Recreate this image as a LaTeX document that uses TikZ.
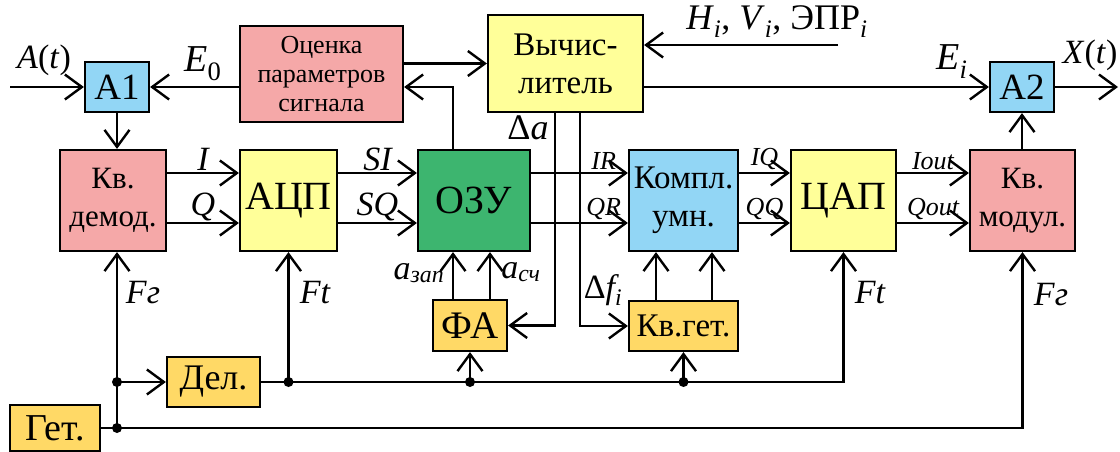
\documentclass[tikz,border=0pt]{standalone}
\usepackage{fontspec}
\setmainfont{Liberation Serif}
\usetikzlibrary{arrows.meta}
\definecolor{boxblue}{HTML}{92D6F5}
\definecolor{boxpink}{HTML}{F5A8A8}
\definecolor{boxyel}{HTML}{FFFF99}
\definecolor{boxgrn}{HTML}{3DB56F}
\definecolor{boxorg}{HTML}{FFD966}
\newcommand{\sz}[2]{\fontsize{#1}{#2}\selectfont}
\tikzset{
  unit/.style={draw=black, line width=2.2pt, inner sep=0pt, align=center},
  blu/.style={unit, fill=boxblue},
  pnk/.style={unit, fill=boxpink},
  yel/.style={unit, fill=boxyel},
  grn/.style={unit, fill=boxgrn},
  org/.style={unit, fill=boxorg},
  arr/.style={-{Straight Barb[length=17pt,width=25pt]}, line width=2.4pt},
  lbl/.style={font=\sz{34}{38}\itshape, inner sep=1pt},
  sml/.style={font=\sz{26}{30}\itshape, inner sep=2pt},
  dot/.style={circle, fill=black, inner sep=0pt, minimum size=10pt},
}
\begin{document}
\begin{tikzpicture}[x=1pt,y=-1pt]
\useasboundingbox (0,0) rectangle (1120,452);
% top row
\node[blu, minimum width=64pt, minimum height=50pt, font=\sz{37}{40}] (A1) at (117,87) {A1};
\node[pnk, minimum width=163pt, minimum height=96pt, font=\sz{26}{29}] (est) at (321.5,74) {Оценка\\параметров\\сигнала};
\node[yel, minimum width=155pt, minimum height=97pt, font=\sz{33}{38}] (calc) at (565.5,63.5) {Вычис-\\литель};
\node[blu, minimum width=64pt, minimum height=50pt, font=\sz{37}{40}] (A2) at (1022,87) {A2};
% middle row
\node[pnk, minimum width=106pt, minimum height=101pt, font=\sz{31}{38}] (demod) at (113,200.5) {Кв.\\демод.};
\node[yel, minimum width=97pt, minimum height=101pt, font=\sz{40}{44}] (adc) at (288.5,200.5) {АЦП};
\node[grn, minimum width=112pt, minimum height=101pt, font=\sz{40}{44}] (ram) at (474,200.5) {ОЗУ};
\node[blu, minimum width=109pt, minimum height=101pt, font=\sz{33}{38}] (cmul) at (683.5,200.5) {Компл.\\умн.};
\node[yel, minimum width=105pt, minimum height=101pt, font=\sz{40}{44}] (dac) at (843.5,200.5) {ЦАП};
\node[pnk, minimum width=105pt, minimum height=101pt, font=\sz{31}{38}] (mod) at (1022.5,200.5) {Кв.\\модул.};
% bottom row
\node[org, minimum width=74pt, minimum height=51pt, font=\sz{39}{42}] (fa) at (470,325.5) {ФА};
\node[org, minimum width=109pt, minimum height=50pt, font=\sz{33}{36}] (qlo) at (683.5,326) {Кв.гет.};
\node[org, minimum width=93pt, minimum height=50pt, font=\sz{36}{40}] (div) at (213.5,382) {Дел.};
\node[org, minimum width=90pt, minimum height=46pt, font=\sz{38}{42}] (lo) at (55,428) {Гет.};

% helper points
\coordinate (rowI) at (0,173);
\coordinate (rowQ) at (0,223);
\coordinate (xa) at (453,0);
\coordinate (xb) at (490,0);
\coordinate (xc) at (656,0);
\coordinate (xd) at (712,0);
\coordinate (xda) at (555,0);
\coordinate (xdf) at (580,0);
\coordinate (ain) at (10,87);
\coordinate (xout) at (1118,87);
\coordinate (hin) at (838,45);

% top signals
\draw[arr] (ain) -- (A1.west);
\node[lbl] (lA) at (44,60) {A\textup{(}t\textup{)}};
\draw[arr] (est.west |- A1.east) -- (A1.east);
\node[lbl, font=\sz{38}{40}\itshape] (lE0) at (203,64) {E\textsubscript{\textup{0}}};
\draw[arr] (est.east |- calc.west) -- (calc.west);
\draw[arr] (ram.north -| xa) |- (est.east |- A1.east);
\draw[arr] (hin) -- (hin -| calc.east);
\node[font=\sz{36}{40}, inner sep=1pt] (lH) at (777,22) {\textit{H}\textsubscript{\textit{i}}, \textit{V}\textsubscript{\textit{i}}, ЭПР\textsubscript{\textit{i}}};
\draw[arr] (calc.east |- A2.west) -- (A2.west);
\node[lbl, font=\sz{38}{40}\itshape] (lEi) at (952,62) {E\textsubscript{i}};
\draw[arr] (A2.east) -- (xout);
\node[lbl] (lX) at (1090,55) {X\textup{(}t\textup{)}};
\draw[arr] (A1.south) -- (A1.south |- demod.north);
\draw[arr] (mod.north -| A2.south) -- (A2.south);

% data path
\draw[arr] (demod.east |- rowI) -- (adc.west |- rowI) node[lbl, midway, above] (lI) {I};
\draw[arr] (demod.east |- rowQ) -- (adc.west |- rowQ) node[lbl, midway, above] (lQ) {Q};
\draw[arr] (adc.east |- rowI) -- (ram.west |- rowI) node[lbl, midway, above] (lSI) {SI};
\draw[arr] (adc.east |- rowQ) -- (ram.west |- rowQ) node[lbl, midway, above] (lSQ) {SQ};
\draw[arr] (ram.east |- rowI) -- (cmul.west |- rowI) node[sml, pos=0.75, above] (lIR) {IR};
\draw[arr] (ram.east |- rowQ) -- (cmul.west |- rowQ) node[sml, pos=0.75, above] (lQR) {QR};
\draw[arr] (cmul.east |- rowI) -- (dac.west |- rowI) node[sml, midway, above] (lIQ) {IQ};
\draw[arr] (cmul.east |- rowQ) -- (dac.west |- rowQ) node[sml, midway, above] (lQQ) {QQ};
\draw[arr] (dac.east |- rowI) -- (mod.west |- rowI) node[sml, midway, above] (lIo) {Iout};
\draw[arr] (dac.east |- rowQ) -- (mod.west |- rowQ) node[sml, midway, above] (lQo) {Qout};

% addresses and frequency offset
\draw[arr] (calc.south -| xda) |- (fa.east);
\node[lbl, font=\sz{36}{40}\itshape] (lda) at (528,128) {\textup{Δ}a};
\draw[arr] (calc.south -| xdf) |- (qlo.west);
\node[lbl] (ldf) at (603,290) {\textup{Δ}f\textsubscript{i}};
\draw[arr] (fa.north -| xa) -- (ram.south -| xa);
\draw[arr] (fa.north -| xb) -- (ram.south -| xb);
\node[lbl] (lwr) at (419,273) {a\textsubscript{зап}};
\node[lbl] (lrd) at (521,272) {a\textsubscript{сч}};
\draw[arr] (qlo.north -| xc) -- (cmul.south -| xc);
\draw[arr] (qlo.north -| xd) -- (cmul.south -| xd);

% clocks
\draw[arr] (lo.east) -| (mod.south);
\draw[arr] (A1.south |- lo.east) -- (A1.south |- demod.south);
\draw[arr] (A1.south |- div.west) -- (div.west);
\draw[arr] (div.east) -| (dac.south);
\draw[arr] (adc.south |- div.east) -- (adc.south);
\draw[arr] (fa.south |- div.east) -- (fa.south);
\draw[arr] (qlo.south |- div.east) -- (qlo.south);
\node[dot] (j1) at (A1.south |- lo.east) {};
\node[dot] (j2) at (A1.south |- div.west) {};
\node[dot] (j3) at (adc.south |- div.east) {};
\node[dot] (j4) at (fa.south |- div.east) {};
\node[dot] (j5) at (qlo.south |- div.east) {};
\node[lbl] (lFg1) at (143,293) {Fг};
\node[lbl] (lFt1) at (315,293) {Ft};
\node[lbl] (lFt2) at (870,293) {Ft};
\node[lbl] (lFg2) at (1051,295) {Fг};
\end{tikzpicture}
\end{document}
